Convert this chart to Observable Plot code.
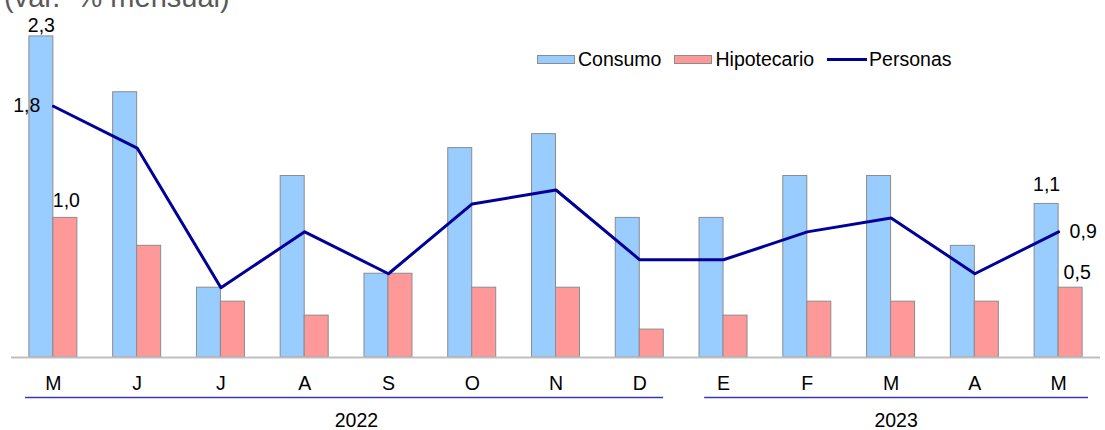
<!DOCTYPE html>
<html>
<head>
<meta charset="utf-8">
<script src="https://cdn.jsdelivr.net/npm/d3@7"></script>
<script src="https://cdn.jsdelivr.net/npm/@observablehq/plot@0.6"></script>
<style>
  html, body { margin: 0; padding: 0; background: #fff; overflow: hidden; }
  #wrap { position: relative; width: 1105px; height: 430px; font-family: "Liberation Sans", Arial, sans-serif; }
  #title { position: absolute; left: 4px; top: -17px; font-size: 29px; line-height: 29px; color: #595959; white-space: pre; }
  #legend { position: absolute; left: 537px; top: 48px; font-size: 19.5px; color: #000; display: flex; align-items: center; white-space: nowrap; }
  .sw { display: inline-block; width: 36px; height: 7px; border: 1px solid #8c8c8c; margin-right: 3px; }
  .ln { display: inline-block; width: 40px; height: 3px; background: #000099; margin-right: 2px; }
  .item { display: flex; align-items: center; margin-right: 13px; }
  svg { position: absolute; left: 0; top: 0; }
</style>
</head>
<body>
<div id="wrap">
  <div id="chart"></div>
  <div id="title">(var.  % mensual)</div>
  <div id="legend"></div>
</div>
<script>
// ---- data ----
const monthKeys = ["2022-05","2022-06","2022-07","2022-08","2022-09","2022-10","2022-11","2022-12","2023-01","2023-02","2023-03","2023-04","2023-05"];
const monthLabels = ["M","J","J","A","S","O","N","D","E","F","M","A","M"];
const consumo = [2.3, 1.9, 0.5, 1.3, 0.6, 1.5, 1.6, 1.0, 1.0, 1.3, 1.3, 0.8, 1.1];
const hipotecario = [1.0, 0.8, 0.4, 0.3, 0.6, 0.5, 0.5, 0.2, 0.3, 0.4, 0.4, 0.4, 0.5];
const personas = [1.8, 1.5, 0.5, 0.9, 0.6, 1.1, 1.2, 0.7, 0.7, 0.9, 1.0, 0.6, 0.9];
const years = ["2022", "2023"];
const yearFirst = ["2022-05", "2023-01"];
const yearLast = ["2022-12", "2023-05"];
const seriesNames = ["Consumo", "Hipotecario", "Personas"];
const seriesColors = ["#99ccff", "#ff9999", "#000099"];

const data = monthKeys.map((k, i) => ({key: k, label: monthLabels[i], consumo: consumo[i], hipotecario: hipotecario[i], personas: personas[i]}));
const yearData = years.map((y, i) => ({year: y, first: yearFirst[i], last: yearLast[i]}));
const fmt = v => d3.format(".1f")(v).replace(".", ",");
const monthFmt = d => monthLabels[monthKeys.indexOf(d)];

const W = 1105, H = 430, ml = 11, mr = 5, mt = 8, mb = 73;
const bw = (W - ml - mr) / monthKeys.length;
const half = bw / 2, barW = 24;
const font = '"Liberation Sans", Arial, sans-serif';

const first = [data[0]], last = [data[data.length - 1]];

const chart = Plot.plot({
  width: W, height: H,
  marginLeft: ml, marginRight: mr, marginTop: mt, marginBottom: mb,
  style: {fontFamily: font, fontSize: "19.5px", color: "#000", background: "transparent"},
  x: {type: "band", domain: monthKeys, padding: 0, round: false},
  y: {domain: [0, 2.5], axis: null},
  marks: [
    Plot.barY(data, {x: "key", y: "consumo", fill: seriesColors[0], stroke: "#8c8c8c", strokeWidth: 1, insetLeft: half - barW, insetRight: half}),
    Plot.barY(data, {x: "key", y: "hipotecario", fill: seriesColors[1], stroke: "#8c8c8c", strokeWidth: 1, insetLeft: half, insetRight: half - barW}),
    Plot.ruleY([0], {stroke: "#bfbfbf", strokeWidth: 2}),
    Plot.lineY(data, {x: "key", y: "personas", stroke: seriesColors[2], strokeWidth: 3}),
    Plot.axisX({tickSize: 0, tickPadding: 19, fontSize: "19.5px", label: null, tickFormat: monthFmt}),
    // underlines for years
    Plot.ruleY(yearData.slice(0, 1), {x1: "first", x2: "last", y: () => 0, dy: 40, stroke: "#3a3ab0", strokeWidth: 1.5, insetLeft: 14, insetRight: 18}),
    Plot.ruleY(yearData.slice(1), {x1: "first", x2: "last", y: () => 0, dy: 40, stroke: "#3a3ab0", strokeWidth: 1.5, insetLeft: 23, insetRight: 12}),
    Plot.text(yearData.slice(0, 1), {x: () => monthKeys[4], y: () => 0, text: "year", dx: -32, dy: 63, fontSize: 19.5}),
    Plot.text(yearData.slice(1), {x: () => monthKeys[10], y: () => 0, text: "year", dx: 5, dy: 63, fontSize: 19.5}),
    // value labels
    Plot.text(first, {x: "key", y: "consumo", text: d => fmt(d.consumo), dx: -12, dy: -4, lineAnchor: "bottom", fontSize: 19.5}),
    Plot.text(first, {x: "key", y: "personas", text: d => fmt(d.personas), textAnchor: "end", dx: -13, fontSize: 19.5}),
    Plot.text(first, {x: "key", y: "hipotecario", text: d => fmt(d.hipotecario), dx: 13, dy: -11, lineAnchor: "bottom", fontSize: 19.5}),
    Plot.text(last, {x: "key", y: "consumo", text: d => fmt(d.consumo), dx: -12, dy: -13, lineAnchor: "bottom", fontSize: 19.5}),
    Plot.text(last, {x: "key", y: "personas", text: d => fmt(d.personas), textAnchor: "start", dx: 11, fontSize: 19.5}),
    Plot.text(last, {x: "key", y: "hipotecario", text: d => fmt(d.hipotecario), textAnchor: "start", dx: 5, dy: -15, fontSize: 19.5})
  ]
});
document.getElementById("chart").appendChild(chart);

const legend = document.getElementById("legend");
seriesNames.forEach((name, i) => {
  const item = document.createElement("span");
  item.className = "item";
  const mark = document.createElement("span");
  if (i < 2) { mark.className = "sw"; mark.style.background = seriesColors[i]; }
  else { mark.className = "ln"; mark.style.background = seriesColors[i]; }
  item.appendChild(mark);
  item.appendChild(document.createTextNode(name));
  legend.appendChild(item);
});
</script>
</body>
</html>
